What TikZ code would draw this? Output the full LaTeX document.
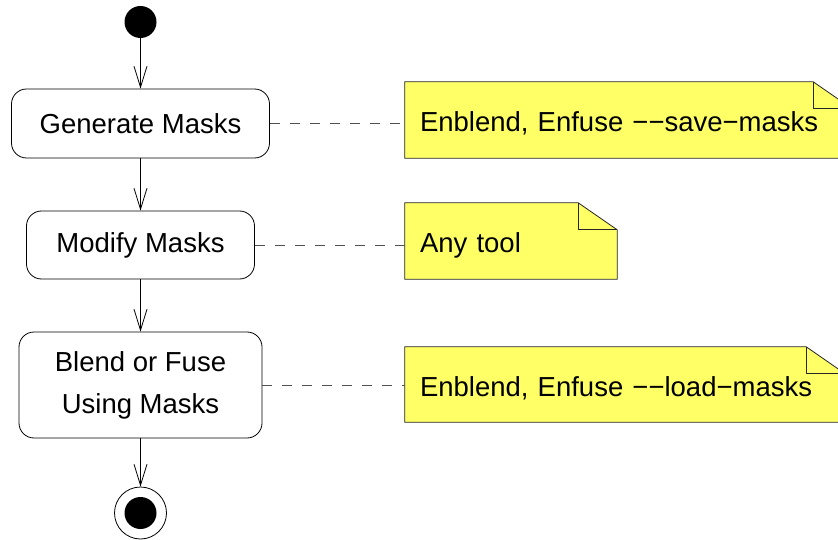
\documentclass[tikz,border=0pt]{standalone}
\usepackage{fontspec}
\setmainfont{Liberation Sans}
\usetikzlibrary{arrows.meta,backgrounds}
\definecolor{noteyellow}{RGB}{255,255,102}
\definecolor{linkgray}{RGB}{80,80,80}
\tikzset{
  action/.style={draw, rounded corners=15pt, align=center, line width=0.8pt,
    font=\fontsize{27.5}{42}\selectfont},
  note/.style={inner xsep=15pt, inner ysep=0pt, minimum height=76pt, align=left,
    font=\fontsize{27.5}{33}\selectfont, text height=26pt, text depth=2pt},
  notebg/.style={fill=noteyellow, draw=black!85, line width=0.8pt},
  flow/.style={-{Straight Barb[length=21pt,width=13pt]}, line width=0.8pt},
  link/.style={draw=linkgray, dash pattern=on 10pt off 10pt, line width=0.8pt}
}
\begin{document}
\begin{tikzpicture}[x=1pt,y=-1pt]
\useasboundingbox (0,0) rectangle (838,540);

\node[circle, fill, minimum size=32pt, inner sep=0pt] (start) at (140.5,22) {};
\node[action, minimum width=258pt, minimum height=69pt] (gen) at (140.5,123.5) {Generate Masks};
\node[action, minimum width=228pt, minimum height=68pt] (mod) at (140.5,245) {Modify Masks};
\node[action, minimum width=243pt, minimum height=106pt] (blend) at (140.5,385) {Blend or Fuse\\Using Masks};
\node[circle, draw, line width=0.8pt, minimum size=52pt, inner sep=0pt] (stop) at (140.5,513) {};
\node[circle, fill, minimum size=32pt, inner sep=0pt] (stopdot) at (stop) {};

\draw[flow] (start) -- (gen);
\draw[flow] (gen) -- (mod);
\draw[flow] (mod) -- (blend);
\draw[flow] (blend) -- (stop);

% notes
\node[note, text width=417pt] (n1) at (628.5,120) {Enblend, Enfuse −−save−masks};
\node[note, text width=182pt] (n2) at (511,241) {Any tool};
\node[note, text width=410pt, minimum height=75pt] (n3) at (625,384.5) {Enblend, Enfuse −−load−masks};

\begin{scope}[on background layer]
\draw[notebg] (n1.south west) -- (n1.north west) -- ([xshift=-39pt]n1.north east)
  -- ([yshift=-27pt]n1.north east) -- (n1.south east) -- cycle;
\draw[notebg, fill=none] ([xshift=-39pt]n1.north east) |- ([yshift=-27pt]n1.north east);
\draw[notebg] (n2.south west) -- (n2.north west) -- ([xshift=-39pt]n2.north east)
  -- ([yshift=-27pt]n2.north east) -- (n2.south east) -- cycle;
\draw[notebg, fill=none] ([xshift=-39pt]n2.north east) |- ([yshift=-27pt]n2.north east);
\draw[notebg] (n3.south west) -- (n3.north west) -- ([xshift=-39pt]n3.north east)
  -- ([yshift=-27pt]n3.north east) -- (n3.south east) -- cycle;
\draw[notebg, fill=none] ([xshift=-39pt]n3.north east) |- ([yshift=-27pt]n3.north east);
\end{scope}

\draw[link] (gen.east) -- (gen.east -| n1.west);
\draw[link] (mod.east) -- (mod.east -| n2.west);
\draw[link] (blend.east) -- (blend.east -| n3.west);
\end{tikzpicture}
\end{document}
